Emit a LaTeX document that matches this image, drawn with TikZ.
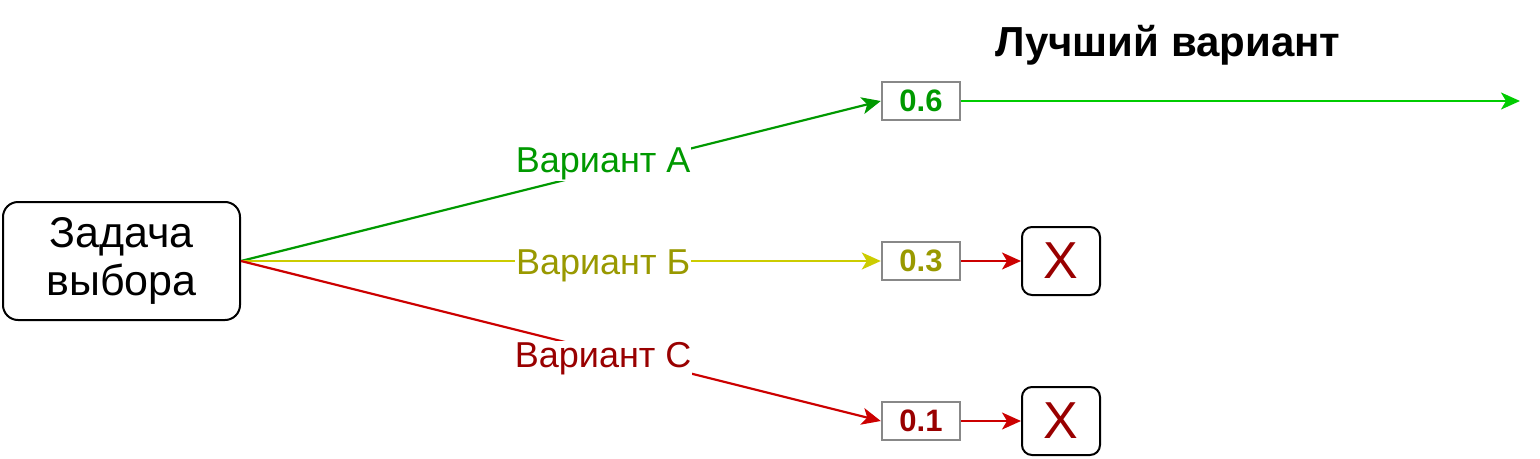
\documentclass[tikz,border=0pt]{standalone}
\usepackage{fontspec}
\setmainfont{Liberation Sans}
\usetikzlibrary{arrows.meta}
\definecolor{lineA}{HTML}{009900}
\definecolor{lineBest}{HTML}{00CC00}
\definecolor{lineB}{HTML}{CCCC00}
\definecolor{lineC}{HTML}{CC0000}
\definecolor{textA}{HTML}{009900}
\definecolor{textB}{HTML}{999900}
\definecolor{textC}{HTML}{990000}
\definecolor{scoregray}{HTML}{888888}

\begin{document}
\begin{tikzpicture}[
        x=1pt,y=-1pt,
        every node/.style={inner sep=0pt},
        task/.style={draw,rounded corners=15pt,minimum width=237pt,minimum height=118pt,line width=2pt,align=center,font=\fontsize{43}{48}\selectfont},
        score/.style={draw=scoregray,line width=2.4pt,minimum width=78pt,minimum height=38pt,font=\bfseries\fontsize{31}{36}\selectfont},
        reject/.style={draw,rounded corners=10pt,line width=2pt,minimum width=78pt,minimum height=68pt,text=textC,font=\fontsize{52}{60}\selectfont},
        variant/.style={fill=white,inner sep=1pt,pos=0.566,font=\fontsize{36}{42}\selectfont},
        >={Stealth[length=19pt,width=17pt,inset=5pt]},
        line width=2.2pt
    ]
        \useasboundingbox (0,0) rectangle (1540,458);
        \node[task] (task) at (121.5,261) {Задача\\выбора};
        \node[score,text=textA] (sa) at (921,101) {0.6};
        \node[score,text=textB] (sb) at (921,261) {0.3};
        \node[score,text=textC] (sc) at (921,421) {0.1};
        \node[reject] (xb) at (1061,261) {X};
        \node[reject] (xc) at (1061,421) {X};
        \coordinate (best) at (1520,101);
        \node[font=\bfseries\fontsize{42}{48}\selectfont] (title) at (1168,45) {Лучший вариант};
        \draw[->,lineA] (task.east) -- node[variant,text=textA,yshift=7pt] {Вариант А} (sa.west);
        \draw[->,lineB] (task.east) -- node[variant,text=textB,yshift=-5pt] {Вариант Б} (sb.west);
        \draw[->,lineC] (task.east) -- node[variant,text=textC,yshift=-7pt] {Вариант С} (sc.west);
        \draw[->,lineBest] (sa.east) -- (best);
        \draw[->,lineC] (sb.east) -- (xb.west);
        \draw[->,lineC] (sc.east) -- (xc.west);
    \end{tikzpicture}
\end{document}
